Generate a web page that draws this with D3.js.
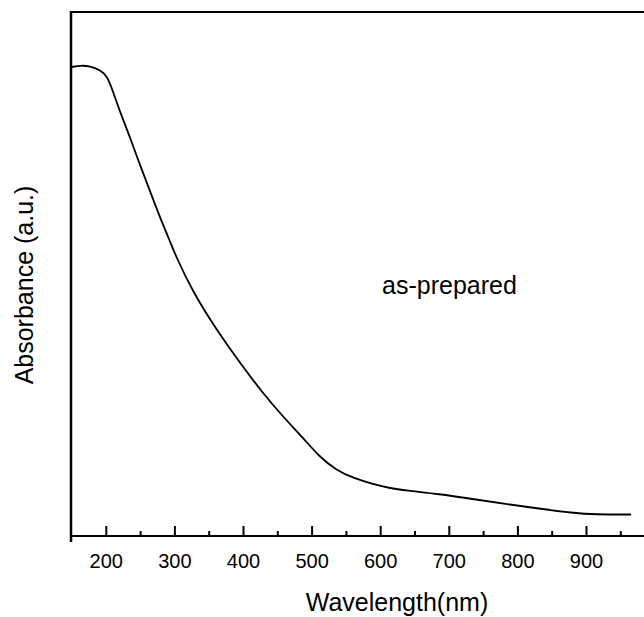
<!DOCTYPE html>
<html>
<head>
<meta charset="utf-8">
<script src="https://cdn.jsdelivr.net/npm/d3@7"></script>
<style>
  body { margin: 0; background: #fff; }
  text { font-family: "Liberation Sans", Arial, sans-serif; fill: #000; }
</style>
</head>
<body>
<svg id="chart" width="644" height="617"></svg>
<script>
// Absorbance spectrum (arbitrary units)
const wavelength = [150, 162, 176, 191, 201, 208, 220, 235, 249, 264, 278, 293, 300,
  326, 361, 395, 428, 458, 487, 511, 535, 560, 588, 612, 637, 685, 734, 782, 830, 880, 913, 965];
const absorbance = [0.938, 0.941, 0.940, 0.932, 0.920, 0.896, 0.848, 0.796, 0.742, 0.689, 0.638, 0.589, 0.564,
  0.488, 0.412, 0.346, 0.286, 0.238, 0.196, 0.158, 0.132, 0.116, 0.104, 0.096, 0.091, 0.084, 0.074, 0.064, 0.055, 0.046, 0.043, 0.043];
const majorTicks = [200, 300, 400, 500, 600, 700, 800, 900];
const minorTicks = [250, 350, 450, 550, 650, 750, 850, 950];

const svg = d3.select("#chart");

const x = d3.scaleLinear().domain([150, 985]).range([72, 644.8]);
const y = d3.scaleLinear().domain([0, 1.048]).range([536, 12]);

const data = wavelength.map((w, i) => ({ w: w, a: absorbance[i] }));

// frame: top line and left line
svg.append("line")
    .attr("x1", 71).attr("x2", 644)
    .attr("y1", 12).attr("y2", 12)
    .attr("stroke", "#000").attr("stroke-width", 2);
svg.append("line")
    .attr("x1", 71).attr("x2", 71)
    .attr("y1", 11).attr("y2", 542)
    .attr("stroke", "#000").attr("stroke-width", 2.5);

// bottom axis, ticks point inward
const xAxis = svg.append("g").attr("transform", "translate(0,536)");
xAxis.append("line")
    .attr("x1", 70).attr("x2", 644)
    .attr("stroke", "#000").attr("stroke-width", 2);
xAxis.selectAll("line.major").data(majorTicks).enter().append("line")
    .attr("class", "major")
    .attr("x1", d => x(d)).attr("x2", d => x(d))
    .attr("y1", 0).attr("y2", -10)
    .attr("stroke", "#000").attr("stroke-width", 2);
xAxis.selectAll("line.minor").data(minorTicks).enter().append("line")
    .attr("class", "minor")
    .attr("x1", d => x(d)).attr("x2", d => x(d))
    .attr("y1", 0).attr("y2", -5)
    .attr("stroke", "#000").attr("stroke-width", 2);
xAxis.selectAll("text.lbl").data(majorTicks).enter().append("text")
    .attr("class", "lbl")
    .attr("x", d => x(d))
    .attr("y", 32)
    .attr("text-anchor", "middle")
    .attr("font-size", 20)
    .text(d => d);

// curve
const line = d3.line()
    .x(d => x(d.w))
    .y(d => y(d.a))
    .curve(d3.curveBasis);

svg.append("path")
    .datum(data)
    .attr("d", line)
    .attr("fill", "none")
    .attr("stroke", "#000")
    .attr("stroke-width", 1.8);

// labels
svg.append("text")
    .attr("x", 397).attr("y", 611)
    .attr("text-anchor", "middle")
    .attr("font-size", 25)
    .text("Wavelength(nm)");

svg.append("text")
    .attr("transform", "translate(33,285) rotate(-90)")
    .attr("text-anchor", "middle")
    .attr("font-size", 25)
    .text("Absorbance (a.u.)");

svg.append("text")
    .attr("x", 449.5).attr("y", 294)
    .attr("text-anchor", "middle")
    .attr("font-size", 25)
    .text("as-prepared");
</script>
</body>
</html>
